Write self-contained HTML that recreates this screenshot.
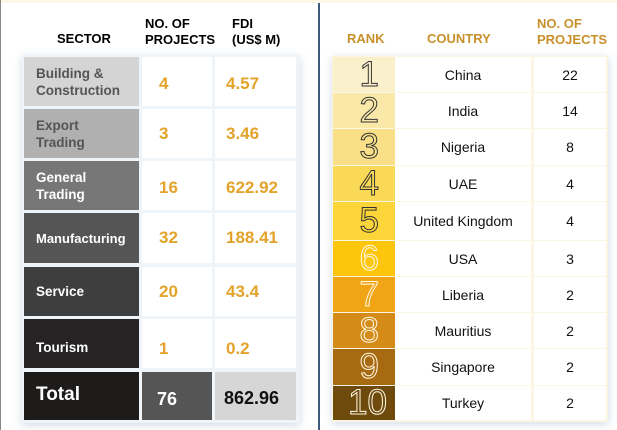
<!DOCTYPE html>
<html><head><style>
*{margin:0;padding:0;box-sizing:border-box}
body{width:617px;height:430px;background:#fff;position:relative;overflow:hidden;font-family:"Liberation Sans",sans-serif}
.a{position:absolute}
.h{font-weight:bold;font-size:13px;line-height:16px}
.c{position:absolute;display:flex;align-items:center}
.s{font-weight:bold;font-size:13.5px;line-height:17px;padding-left:12px}
.n{font-weight:bold;font-size:17px;color:#e3a32a}
.rk{justify-content:flex-end;padding-right:16px;font-size:35px;color:transparent;-webkit-text-stroke:1px #333;font-family:"Liberation Sans",sans-serif}
.w{-webkit-text-stroke:1px #fff8e6}
.ct{justify-content:center;font-size:14px;color:#111}
</style></head><body>
<div class="a" style="left:0;top:0;width:617px;height:3px;background:#fbf8e6"></div>
<div class="a" style="left:0;top:0;width:1px;height:430px;background:#888"></div>
<div class="a" style="left:318px;top:3px;width:2px;height:427px;background:#3b5a7c"></div>

<div class="a h" style="left:57px;top:31px">SECTOR</div>
<div class="a h" style="left:145px;top:16px">NO. OF<br>PROJECTS</div>
<div class="a h" style="left:232px;top:16px">FDI<br>(US$ M)</div>

<div class="a" style="left:22px;top:55px;width:278px;height:368px;background:#eef4f8;box-shadow:0 2px 8px rgba(120,150,180,.35)"></div>
<div class="c s" style="left:24px;top:57px;width:115px;height:49px;background:#d4d4d4;color:#555">Building &amp;<br>Construction</div>
<div class="c s" style="left:24px;top:109px;width:115px;height:49px;background:#b0b0b0;color:#555">Export<br>Trading</div>
<div class="c s" style="left:24px;top:161px;width:115px;height:49px;background:#777;color:#fff">General<br>Trading</div>
<div class="c s" style="left:24px;top:213px;width:115px;height:50px;background:#555;color:#fff;font-size:13px">Manufacturing</div>
<div class="c s" style="left:24px;top:267px;width:115px;height:49px;background:#3e3e3e;color:#fff">Service</div>
<div class="c s" style="left:24px;top:319px;width:115px;height:49px;background:#252323;color:#fff;padding-top:8px">Tourism</div>
<div class="c s" style="left:24px;top:372px;width:115px;height:48px;background:#1e1b1b;color:#fff;font-size:19px;padding-bottom:4px">Total</div>

<div class="c n" style="left:142px;top:57px;width:70px;height:49px;background:#fff;padding-left:17px;padding-top:4px">4</div>
<div class="c n" style="left:215px;top:57px;width:81px;height:49px;background:#fff;padding-left:11px;padding-top:4px">4.57</div>
<div class="c n" style="left:142px;top:109px;width:70px;height:49px;background:#fff;padding-left:17px">3</div>
<div class="c n" style="left:215px;top:109px;width:81px;height:49px;background:#fff;padding-left:11px">3.46</div>
<div class="c n" style="left:142px;top:161px;width:70px;height:49px;background:#fff;padding-left:17px;padding-top:4px">16</div>
<div class="c n" style="left:215px;top:161px;width:81px;height:49px;background:#fff;padding-left:11px;padding-top:4px">622.92</div>
<div class="c n" style="left:142px;top:213px;width:70px;height:50px;background:#fff;padding-left:17px">32</div>
<div class="c n" style="left:215px;top:213px;width:81px;height:50px;background:#fff;padding-left:11px">188.41</div>
<div class="c n" style="left:142px;top:267px;width:70px;height:49px;background:#fff;padding-left:17px">20</div>
<div class="c n" style="left:215px;top:267px;width:81px;height:49px;background:#fff;padding-left:11px">43.4</div>
<div class="c n" style="left:142px;top:319px;width:70px;height:49px;background:#fff;padding-left:17px;padding-top:10px">1</div>
<div class="c n" style="left:215px;top:319px;width:81px;height:49px;background:#fff;padding-left:11px;padding-top:10px">0.2</div>
<div class="c n" style="left:142px;top:372px;width:70px;height:48px;background:#555;color:#fff;padding-left:15px;font-size:18px;padding-top:6px">76</div>
<div class="c n" style="left:215px;top:372px;width:81px;height:48px;background:#d6d6d6;color:#111;padding-left:9px;font-size:18px;padding-top:4px">862.96</div>

<div class="a h" style="left:347px;top:31px;color:#c8902a">RANK</div>
<div class="a h" style="left:427px;top:31px;color:#c8902a">COUNTRY</div>
<div class="a h" style="left:537px;top:16px;color:#c8902a">NO. OF<br>PROJECTS</div>

<div class="a" style="left:332px;top:56px;width:276px;height:366px;background:#fbf6e4;box-shadow:0 2px 8px rgba(120,150,180,.35)"></div>
<div id="r"></div>
<script>
var cs=["#fbf0cc","#f9e8a8","#f8df88","#fad957","#fcd638","#fdc50c","#f0a517","#d48b17","#a86a10","#6e4b0d"];
var ys=[57,93,129,166,202,241,277,313,349,386];
var c=["China","India","Nigeria","UAE","United Kingdom","USA","Liberia","Mauritius","Singapore","Turkey"];
var p=[22,14,8,4,4,3,2,2,2,2];var h="";
for(var i=0;i<10;i++){var y=ys[i],ht=(i<9?ys[i+1]:421)-y-1;
h+='<div class="c rk'+(i>4?' w':'')+'" style="left:333px;top:'+y+'px;width:62px;height:'+ht+'px;background:'+cs[i]+(i==9?';padding-right:8px':'')+'">'+(i+1)+'</div>';
h+='<div class="c ct" style="left:395px;top:'+y+'px;width:136px;height:'+ht+'px;background:#fff">'+c[i]+'</div>';
h+='<div class="c ct" style="left:534px;top:'+y+'px;width:72px;height:'+ht+'px;background:#fff">'+p[i]+'</div>';}
document.getElementById("r").innerHTML=h;
</script>
</body></html>
